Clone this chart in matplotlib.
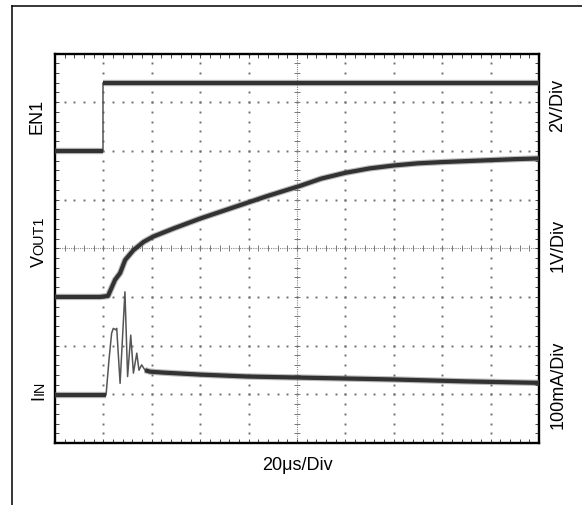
import numpy as np
import matplotlib.pyplot as plt
from matplotlib.lines import Line2D

plt.rcParams['font.family'] = ['Liberation Sans', 'DejaVu Sans']

# scope settings: 20us/div, 10 x 8 divisions
us_per_div = 20.0
n_xdiv = 10
n_ydiv = 8

# EN1 (2V/div, ground at div 6)
en1_t = [0.0, 20.0, 20.0, 200.0]
en1_v = [0.0, 0.0, 2.78, 2.78]
en1_zero, en1_scale = 6.0, 2.0

# VOUT1 (1V/div, ground at div 3)
vout_t = [0.0, 18.6, 21.9, 24.8, 26.9, 29.0, 32.4, 36.6, 40.6, 49.2, 60.0,
          73.8, 87.6, 101.2, 110.0, 120.0, 130.0, 140.0, 150.0, 160.0,
          170.0, 180.0, 190.0, 200.0]
vout_v = [0.0, 0.0, 0.02, 0.35, 0.49, 0.76, 0.96, 1.13, 1.24, 1.41, 1.61,
          1.84, 2.07, 2.28, 2.43, 2.55, 2.64, 2.70, 2.745, 2.77,
          2.79, 2.81, 2.83, 2.845]
vout_zero, vout_scale = 3.0, 1.0

# IIN (100mA/div, zero at div 1)
iin_t = [0.0, 21.1, 22.3, 23.4, 24.1, 25.1, 25.5, 26.9, 28.9, 30.0, 31.3,
         32.4, 33.8, 34.7, 35.8, 37.2, 39.3, 45.0, 60.0, 80.0, 100.0,
         140.0, 170.0, 200.0]
iin_ma = [0, 0, 72, 127, 137, 134, 137, 24, 212, 38, 123,
          45, 86, 51, 62, 51, 48, 46, 42, 38, 36,
          32, 28, 25]
iin_zero, iin_scale = 0.985, 100.0

W, H = 582, 505
fig = plt.figure(figsize=(W / 100, H / 100), dpi=100, facecolor='w')

# outer frame of the figure box
fig.add_artist(Line2D([12 / W, 1.0], [1 - 6 / H, 1 - 6 / H], transform=fig.transFigure, color='k', lw=1.1))
fig.add_artist(Line2D([12 / W, 12 / W], [1 - 6 / H, 0.0], transform=fig.transFigure, color='k', lw=1.1))

ax = fig.add_axes([55 / W, 1 - 443 / H, 484 / W, 389.5 / H])
ax.set_xlim(0, n_xdiv * us_per_div)
ax.set_ylim(0, n_ydiv)
for s in ax.spines.values():
    s.set_linewidth(1.7)

minor_x = np.arange(0, n_xdiv * us_per_div + 0.01, us_per_div / 5)
minor_y = np.arange(0, n_ydiv + 0.001, 0.2)
ax.set_xticks(np.arange(0, n_xdiv * us_per_div + 0.01, us_per_div))
ax.set_yticks(np.arange(0, n_ydiv + 0.01, 1))
ax.set_xticks(minor_x, minor=True)
ax.set_yticks(minor_y, minor=True)
ax.tick_params(which='both', direction='in', length=3, width=0.7, color='#444',
               top=True, right=True, labelbottom=False, labelleft=False)

# dotted graticule
dot = dict(ls='none', marker='s', ms=1.4, mew=0, color='#6e6e6e', zorder=1)
for i in range(1, n_xdiv):
    if i == n_xdiv // 2:
        continue
    ax.plot(np.full(len(minor_y), i * us_per_div), minor_y, **dot)
for j in range(1, n_ydiv):
    if j == n_ydiv // 2:
        continue
    ax.plot(minor_x, np.full(len(minor_x), j), **dot)

# centre axes with fine ticks
xc = n_xdiv / 2 * us_per_div
yc = n_ydiv / 2
ax.axhline(yc, ls=(0, (1, 1)), lw=0.8, color='#888', zorder=1)
ax.axvline(xc, ls=(0, (1, 1)), lw=0.8, color='#888', zorder=1)
ax.plot(minor_x, np.full(len(minor_x), yc), ls='none', marker='|', ms=5, mew=0.7, color='#777', zorder=1)
ax.plot(np.full(len(minor_y), xc), minor_y, ls='none', marker='_', ms=5, mew=0.7, color='#777', zorder=1)


def thick(t, y):
    ax.plot(t, y, color='#6a6a6a', lw=4.6, alpha=0.45, solid_joinstyle='round',
            solid_capstyle='butt', zorder=3)
    ax.plot(t, y, color='#323232', lw=3.0, solid_joinstyle='round',
            solid_capstyle='butt', zorder=4)


def thin(t, y):
    ax.plot(t, y, color='#555', lw=1.1, zorder=3)


en1_y = en1_zero + np.array(en1_v) / en1_scale
thin(en1_t, en1_y)
thick(en1_t[:2], en1_y[:2])
thick(en1_t[2:], en1_y[2:])

vout_y = vout_zero + np.array(vout_v) / vout_scale
thick(vout_t, vout_y)

it = np.array(iin_t)
iin_y = iin_zero + np.array(iin_ma) / iin_scale
thin(it, iin_y)
pre = it <= 21.1
post = it >= 37.2
thick(it[pre], iin_y[pre])
thick(it[post], iin_y[post])

fs = 13
fig.text(297 / W, 1 - 466 / H, '20\u03bcs/Div', ha='center', va='center', fontsize=fs)
fig.text(558 / W, 1 - 105 / H, '2V/Div', rotation=90, ha='center', va='center', fontsize=fs)
fig.text(558 / W, 1 - 245 / H, '1V/Div', rotation=90, ha='center', va='center', fontsize=fs)
fig.text(558 / W, 1 - 385 / H, '100mA/Div', rotation=90, ha='center', va='center', fontsize=fs)
fig.text(37 / W, 1 - 116 / H, 'EN1', rotation=90, ha='center', va='center', fontsize=fs)

renderer = fig.canvas.get_renderer()


def signal_label(x_px, y_px, big, small, size=fs, ratio=0.8):
    # rotated label with a small-caps tail, e.g. V + OUT1
    kw = dict(rotation=90, rotation_mode='anchor', ha='left', va='baseline')
    t1 = fig.text(0, 0, big, fontsize=size, **kw)
    t2 = fig.text(0, 0, small, fontsize=size * ratio, **kw)
    h1 = t1.get_window_extent(renderer).height
    h2 = t2.get_window_extent(renderer).height
    cap = 0.716 * size * fig.dpi / 72
    xb = x_px + cap / 2
    y0 = (H - y_px) - (h1 + h2) / 2
    t1.set_position((xb / W, y0 / H))
    t2.set_position((xb / W, (y0 + h1) / H))


signal_label(37, 242, 'V', 'OUT1')
signal_label(37, 390, 'I', 'IN')

fig.savefig('out.png', dpi=100, facecolor='w')
